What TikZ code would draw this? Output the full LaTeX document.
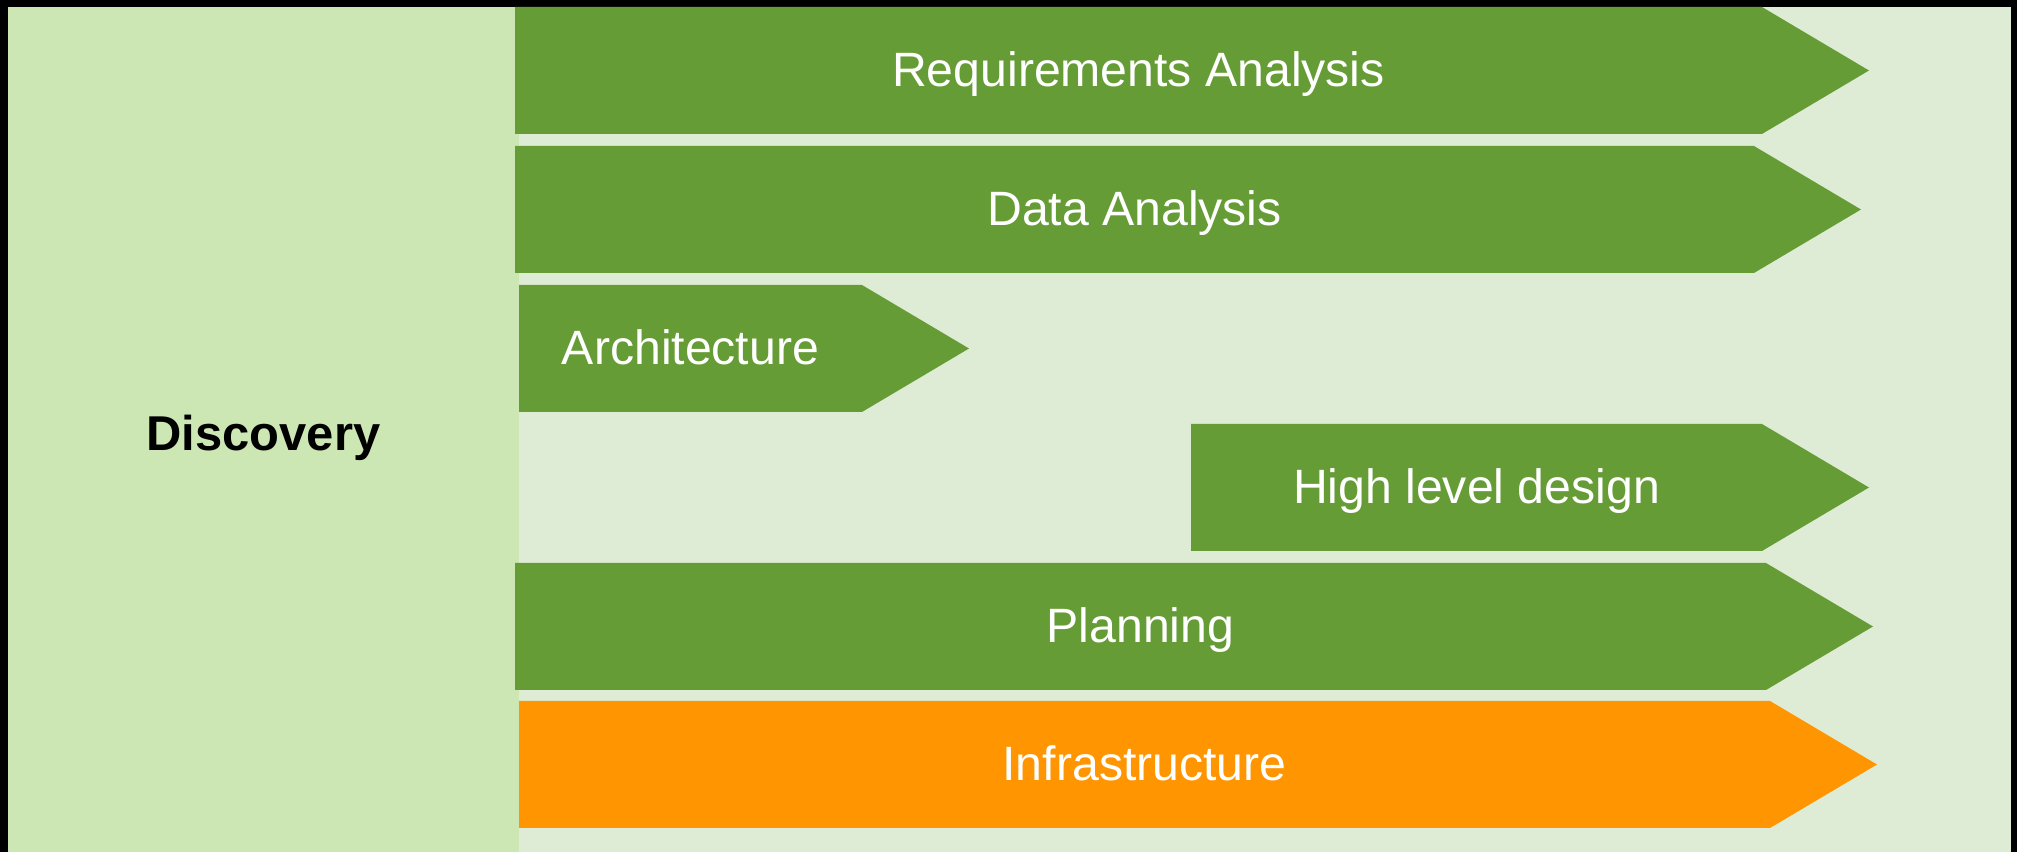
\documentclass[tikz,border=0pt]{standalone}
\usepackage{fontspec}
\setmainfont{Liberation Sans}
\definecolor{panelgreen}{HTML}{CCE7B4}
\definecolor{fieldgreen}{HTML}{DFECD5}
\definecolor{phasegreen}{HTML}{669C35}
\definecolor{phaseorange}{HTML}{FF9500}
\tikzset{
steptext/.style={white,anchor=base,font=\fontsize{13.7}{16}\selectfont},
headtext/.style={black,anchor=base,font=\fontsize{13.9}{16}\selectfont\bfseries}
}
\begin{document}
\begin{tikzpicture}[x=0.01cm,y=-0.01cm]
\fill[black] (0,0) rectangle (2017,852);
\fill[panelgreen] (8,7) rectangle (519,852);
\fill[fieldgreen] (519,7) rectangle (2011,852);

\node[headtext] (disc) at (263.5,451) {Discovery};

% phases: left, body end, top, colour, name, text
\foreach \xl/\xr/\yt/\col/\nm/\txt in {
515/1762/7/phasegreen/req/Requirements Analysis,
515/1754/146/phasegreen/data/Data Analysis,
519/862/285/phasegreen/arch/Architecture,
1191/1762/424/phasegreen/hld/High level design,
515/1766/563/phasegreen/plan/Planning,
519/1770/701/phaseorange/infra/Infrastructure}
{
\fill[\col] (\xl,\yt) -- (\xr,\yt) -- (\xr+107,\yt+63.5) -- (\xr,\yt+127) -- (\xl,\yt+127) -- cycle;
\node[steptext] (\nm) at ({(\xl+\xr)/2},\yt+80) {\txt};
}

\end{tikzpicture}
\end{document}
